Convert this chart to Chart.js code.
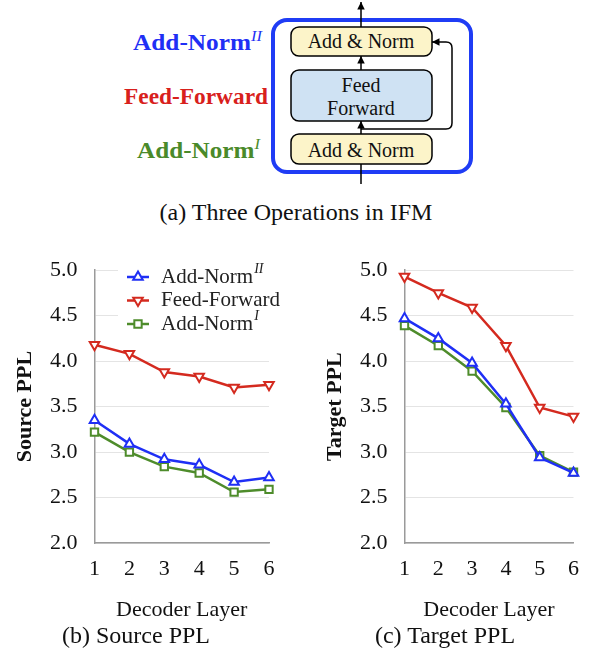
<!DOCTYPE html>
<html>
<head>
<meta charset="utf-8">
<script src="https://cdn.jsdelivr.net/npm/chart.js@4.4.1/dist/chart.umd.min.js"></script>
<style>
  body { margin: 0; background: #fff; width: 592px; height: 654px; position: relative; overflow: hidden; font-family: "Liberation Serif", serif; }
  .cap { position: absolute; font-size: 24px; line-height: 24px; color: #111; white-space: nowrap; transform: translateX(-50%); }
  canvas { position: absolute; }
  svg { position: absolute; left: 0; top: 0; }
</style>
</head>
<body>

<!-- (a) diagrama das três operações -->
<svg width="592" height="190" font-family="Liberation Serif, serif">
  <defs>
    <marker id="seta" viewBox="0 0 10 10" refX="10" refY="5" markerWidth="5" markerHeight="5" orient="auto">
      <path d="M0,0 L10,5 L0,10 z" fill="#000"/>
    </marker>
  </defs>
  <rect x="273" y="20" width="198" height="152" rx="14" fill="none" stroke="#1f3cf5" stroke-width="4"/>
  <line x1="361" y1="184" x2="361" y2="164" stroke="#000" stroke-width="1.5"/>
  <line x1="361" y1="134" x2="361" y2="121" stroke="#000" stroke-width="1.5" marker-end="url(#seta)"/>
  <line x1="361" y1="70" x2="361" y2="56" stroke="#000" stroke-width="1.5" marker-end="url(#seta)"/>
  <line x1="361" y1="27" x2="361" y2="2" stroke="#000" stroke-width="1.5" marker-end="url(#seta)"/>
  <path d="M361,129 H446 Q452,129 452,123 V48 Q452,42 446,42 H432" fill="none" stroke="#000" stroke-width="1.5" marker-end="url(#seta)"/>

  <rect x="291" y="27" width="141" height="29" rx="8" fill="#fcf4c9" stroke="#000" stroke-width="1.5"/>
  <rect x="291" y="70" width="141" height="51" rx="8" fill="#cfe2f3" stroke="#000" stroke-width="1.5"/>
  <rect x="291" y="134" width="141" height="30" rx="8" fill="#fcf4c9" stroke="#000" stroke-width="1.5"/>

  <text x="361" y="48" font-size="20" text-anchor="middle" fill="#111">Add &amp; Norm</text>
  <text x="361" y="92" font-size="20" text-anchor="middle" fill="#111">Feed</text>
  <text x="361" y="115" font-size="20" text-anchor="middle" fill="#111">Forward</text>
  <text x="361" y="157" font-size="20" text-anchor="middle" fill="#111">Add &amp; Norm</text>

  <text x="133" y="50" font-size="23" font-weight="bold" fill="#1f2ff5" textLength="129" lengthAdjust="spacingAndGlyphs">Add-Norm<tspan font-size="15" font-style="italic" font-weight="normal" dy="-9">II</tspan></text>
  <text x="124" y="104" font-size="23" font-weight="bold" fill="#d8201c" textLength="144" lengthAdjust="spacingAndGlyphs">Feed-Forward</text>
  <text x="137" y="158" font-size="23" font-weight="bold" fill="#4a8a2a" textLength="123" lengthAdjust="spacingAndGlyphs">Add-Norm<tspan font-size="15" font-style="italic" font-weight="normal" dy="-9">I</tspan></text>
</svg>
<div class="cap" style="left:296px;top:200px">(a) Three Operations in IFM</div>

<canvas id="sourceChart" width="296" height="383" style="left:0;top:240px"></canvas>
<canvas id="targetChart" width="282" height="383" style="left:310px;top:240px"></canvas>
<div class="cap" style="left:136px;top:623px">(b) Source PPL</div>
<div class="cap" style="left:445px;top:623px">(c) Target PPL</div>

<script>
// Dados
const layers = ['1', '2', '3', '4', '5', '6'];
const yTicks = [2.0, 2.5, 3.0, 3.5, 4.0, 4.5, 5.0];
const seriesNames = ['Add-Norm', 'Feed-Forward', 'Add-Norm'];
const seriesSup = ['II', '', 'I'];

const srcAddNorm2 = [3.35, 3.09, 2.92, 2.86, 2.67, 2.72];
const srcFeedForward = [4.18, 4.08, 3.88, 3.83, 3.71, 3.74];
const srcAddNorm1 = [3.22, 3.00, 2.84, 2.77, 2.56, 2.59];

const tgtAddNorm2 = [4.47, 4.25, 3.98, 3.53, 2.94, 2.77];
const tgtFeedForward = [4.93, 4.75, 4.59, 4.17, 3.49, 3.39];
const tgtAddNorm1 = [4.39, 4.17, 3.89, 3.49, 2.96, 2.78];

const BLUE = '#1f2ff5';
const RED = '#d42a1f';
const GREEN = '#4e8c2b';
const SERIF = '"Liberation Serif", "Times New Roman", serif';

// Legenda desenhada dentro da área do gráfico (b)
const legendaInterna = {
    id: 'legendaInterna',
    afterDatasetsDraw(chart, args, opts) {
        if (!opts.show) return;
        const ctx = chart.ctx;
        ctx.save();
        ctx.fillStyle = '#fff';
        ctx.fillRect(opts.x - 20, opts.y - 11, 162, 70);
        chart.data.datasets.forEach((ds, i) => {
            const y = opts.y + i * opts.gap;
            ctx.strokeStyle = ds.borderColor;
            ctx.lineWidth = 2.5;
            ctx.beginPath();
            ctx.moveTo(opts.x - 11, y);
            ctx.lineTo(opts.x + 11, y);
            ctx.stroke();
            ctx.fillStyle = '#fff';
            ctx.lineWidth = ds.pointBorderWidth;
            Chart.helpers.drawPoint(ctx, {
                pointStyle: ds.pointStyle,
                rotation: ds.pointRotation || 0,
                radius: ds.pointRadius,
                borderWidth: ds.pointBorderWidth
            }, opts.x, y);

            ctx.fillStyle = '#222';
            ctx.textBaseline = 'middle';
            ctx.font = '21px ' + SERIF;
            ctx.fillText(seriesNames[i], opts.x + 23, y);
            if (seriesSup[i]) {
                const w = ctx.measureText(seriesNames[i]).width;
                ctx.font = 'italic 14px ' + SERIF;
                ctx.fillText(seriesSup[i], opts.x + 24 + w, y - 8);
            }
        });
        ctx.restore();
    }
};

function makeDataset(values, color, style, rotation, radius) {
    return {
        data: values,
        borderColor: color,
        backgroundColor: '#fff',
        borderWidth: 2.5,
        pointStyle: style,
        pointRotation: rotation,
        pointRadius: radius,
        pointHoverRadius: radius,
        pointBorderWidth: 2,
        pointBackgroundColor: '#fff',
        tension: 0,
        clip: false
    };
}

function buildChart(canvasId, blue, red, green, yTitle, showLegend, rightPad) {
    const canvas = document.getElementById(canvasId);
    return new Chart(canvas.getContext('2d'), {
        type: 'line',
        data: {
            labels: layers,
            datasets: [
                makeDataset(blue, BLUE, 'triangle', 0, 5.5),
                makeDataset(red, RED, 'triangle', 180, 5.5),
                makeDataset(green, GREEN, 'rect', 0, 5.2)
            ]
        },
        options: {
            responsive: false,
            animation: false,
            events: [],
            layout: { padding: { left: 0, top: 24.3, right: rightPad, bottom: 0 } },
            plugins: {
                legend: { display: false },
                tooltip: { enabled: false },
                legendaInterna: { show: showLegend, x: 138, y: 37, gap: 23.5 }
            },
            scales: {
                x: {
                    offset: false,
                    grid: { display: false, drawTicks: false },
                    border: { display: true, color: '#9a9a9a', width: 1.5 },
                    ticks: { color: '#111', padding: 13, font: { family: SERIF, size: 22 }, maxRotation: 0 },
                    title: { display: true, text: 'Decoder Layer', color: '#111', padding: { top: 0, bottom: 0 }, font: { family: SERIF, size: 22 } },
                    afterFit: s => { s.height = 80; }
                },
                y: {
                    min: 2, max: 5,
                    grid: { color: '#e4e4e4', lineWidth: 1, drawTicks: false },
                    border: { display: true, color: '#9a9a9a', width: 1.5 },
                    afterBuildTicks: s => { s.ticks = yTicks.map(v => ({ value: v })); },
                    ticks: { color: '#111', padding: 17, font: { family: SERIF, size: 22 }, callback: v => Number(v).toFixed(1) },
                    title: { display: true, text: yTitle, color: '#111', padding: { top: 12, bottom: 0 }, font: { family: SERIF, size: 22, weight: 'bold' } },
                    afterFit: s => { s.width = 94.5; }
                }
            }
        },
        plugins: [legendaInterna]
    });
}

buildChart('sourceChart', srcAddNorm2, srcFeedForward, srcAddNorm1, 'Source PPL', true, 27);
buildChart('targetChart', tgtAddNorm2, tgtFeedForward, tgtAddNorm1, 'Target PPL', false, 13.7);
</script>
</body>
</html>
